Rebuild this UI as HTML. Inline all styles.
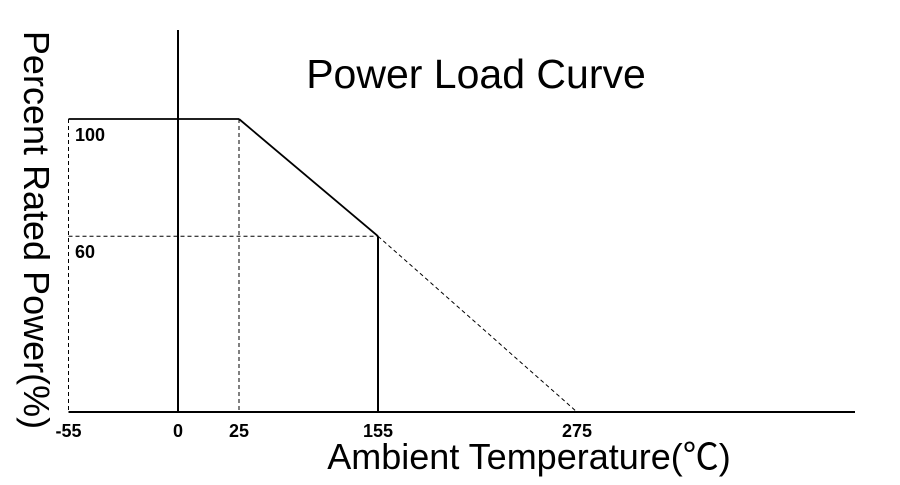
<!DOCTYPE html>
<html><head><meta charset="utf-8"><style>
html,body{margin:0;padding:0;background:#fff;width:900px;height:485px;overflow:hidden}
svg{display:block}
text{font-family:"Liberation Sans","Noto Sans CJK SC",sans-serif;fill:#000}
</style></head><body>
<svg id="chart" width="900" height="485">
<text x="476" y="88" font-size="41" text-anchor="middle">Power Load Curve</text>
<text transform="translate(24,230) rotate(90)" font-size="36" text-anchor="middle">Percent Rated Power(%)</text>
<text x="529" y="469" font-size="36" text-anchor="middle">Ambient Temperature(℃)</text>
<g id="marks"></g>
</svg>
<script>
const xTicks = [-55, 0, 25, 155, 275];
const xTickLabels = ["-55", "0", "25", "155", "275"];
const yTicks = [100, 60];
const yTickLabels = ["100", "60"];
const curveTemps = [-55, 25, 155];
const curvePower = [100, 100, 60];
const extTemps = [155, 275];
const extPower = [60, 0];

const NS = "http://www.w3.org/2000/svg";
const g = document.getElementById('marks');
const xPx = [68.5, 178, 239, 378, 577];
function xs(v){
  for(let i=0;i<xTicks.length-1;i++){
    if(v<=xTicks[i+1]||i===xTicks.length-2){
      const t=(v-xTicks[i])/(xTicks[i+1]-xTicks[i]);
      return xPx[i]+t*(xPx[i+1]-xPx[i]);
    }
  }
}
function ys(v){ return 412 - 2.93*v; }
function line(x1,y1,x2,y2,w,dash,name){
  const l=document.createElementNS(NS,'line');
  l.setAttribute('x1',x1);l.setAttribute('y1',y1);l.setAttribute('x2',x2);l.setAttribute('y2',y2);
  l.setAttribute('stroke','#000');l.setAttribute('stroke-width',w);
  if(dash) l.setAttribute('stroke-dasharray',dash);
  
  
  g.appendChild(l);
}
function txt(x,y,s,anchor,name){
  const t=document.createElementNS(NS,'text');
  t.setAttribute('x',x);t.setAttribute('y',y);t.setAttribute('font-size','18');t.setAttribute('font-weight','bold');
  t.setAttribute('text-anchor',anchor);t.textContent=s;
  
  
  g.appendChild(t);
}
line(xs(-55),ys(100),xs(-55),ys(0),1,'4,3','guide-left');
line(xs(25),ys(100),xs(25),ys(0),1,'4,3','guide-25');
line(xs(-55),ys(60),xs(155),ys(60),1,'4,3','guide-60');
line(xs(-55),ys(0),855,ys(0),2,null,'x-axis');
line(xs(0),30,xs(0),ys(0),2,null,'y-axis');
for(let i=0;i<curveTemps.length-1;i++){
  line(xs(curveTemps[i]),ys(curvePower[i]),xs(curveTemps[i+1]),ys(curvePower[i+1]),1.8,null,'curve-segment');
}
line(xs(curveTemps[curveTemps.length-1]),ys(curvePower[curvePower.length-1]),xs(curveTemps[curveTemps.length-1]),ys(0),2,null,'curve-drop');
line(xs(extTemps[0]),ys(extPower[0]),xs(extTemps[1]),ys(extPower[1]),1,'4,3','curve-extension');
xTicks.forEach((v,i)=>txt(xs(v),437,xTickLabels[i],'middle','x-tick-label'));
yTicks.forEach((v,i)=>txt(75,ys(v)+22,yTickLabels[i],'start','y-tick-label'));
</script>
</body></html>
